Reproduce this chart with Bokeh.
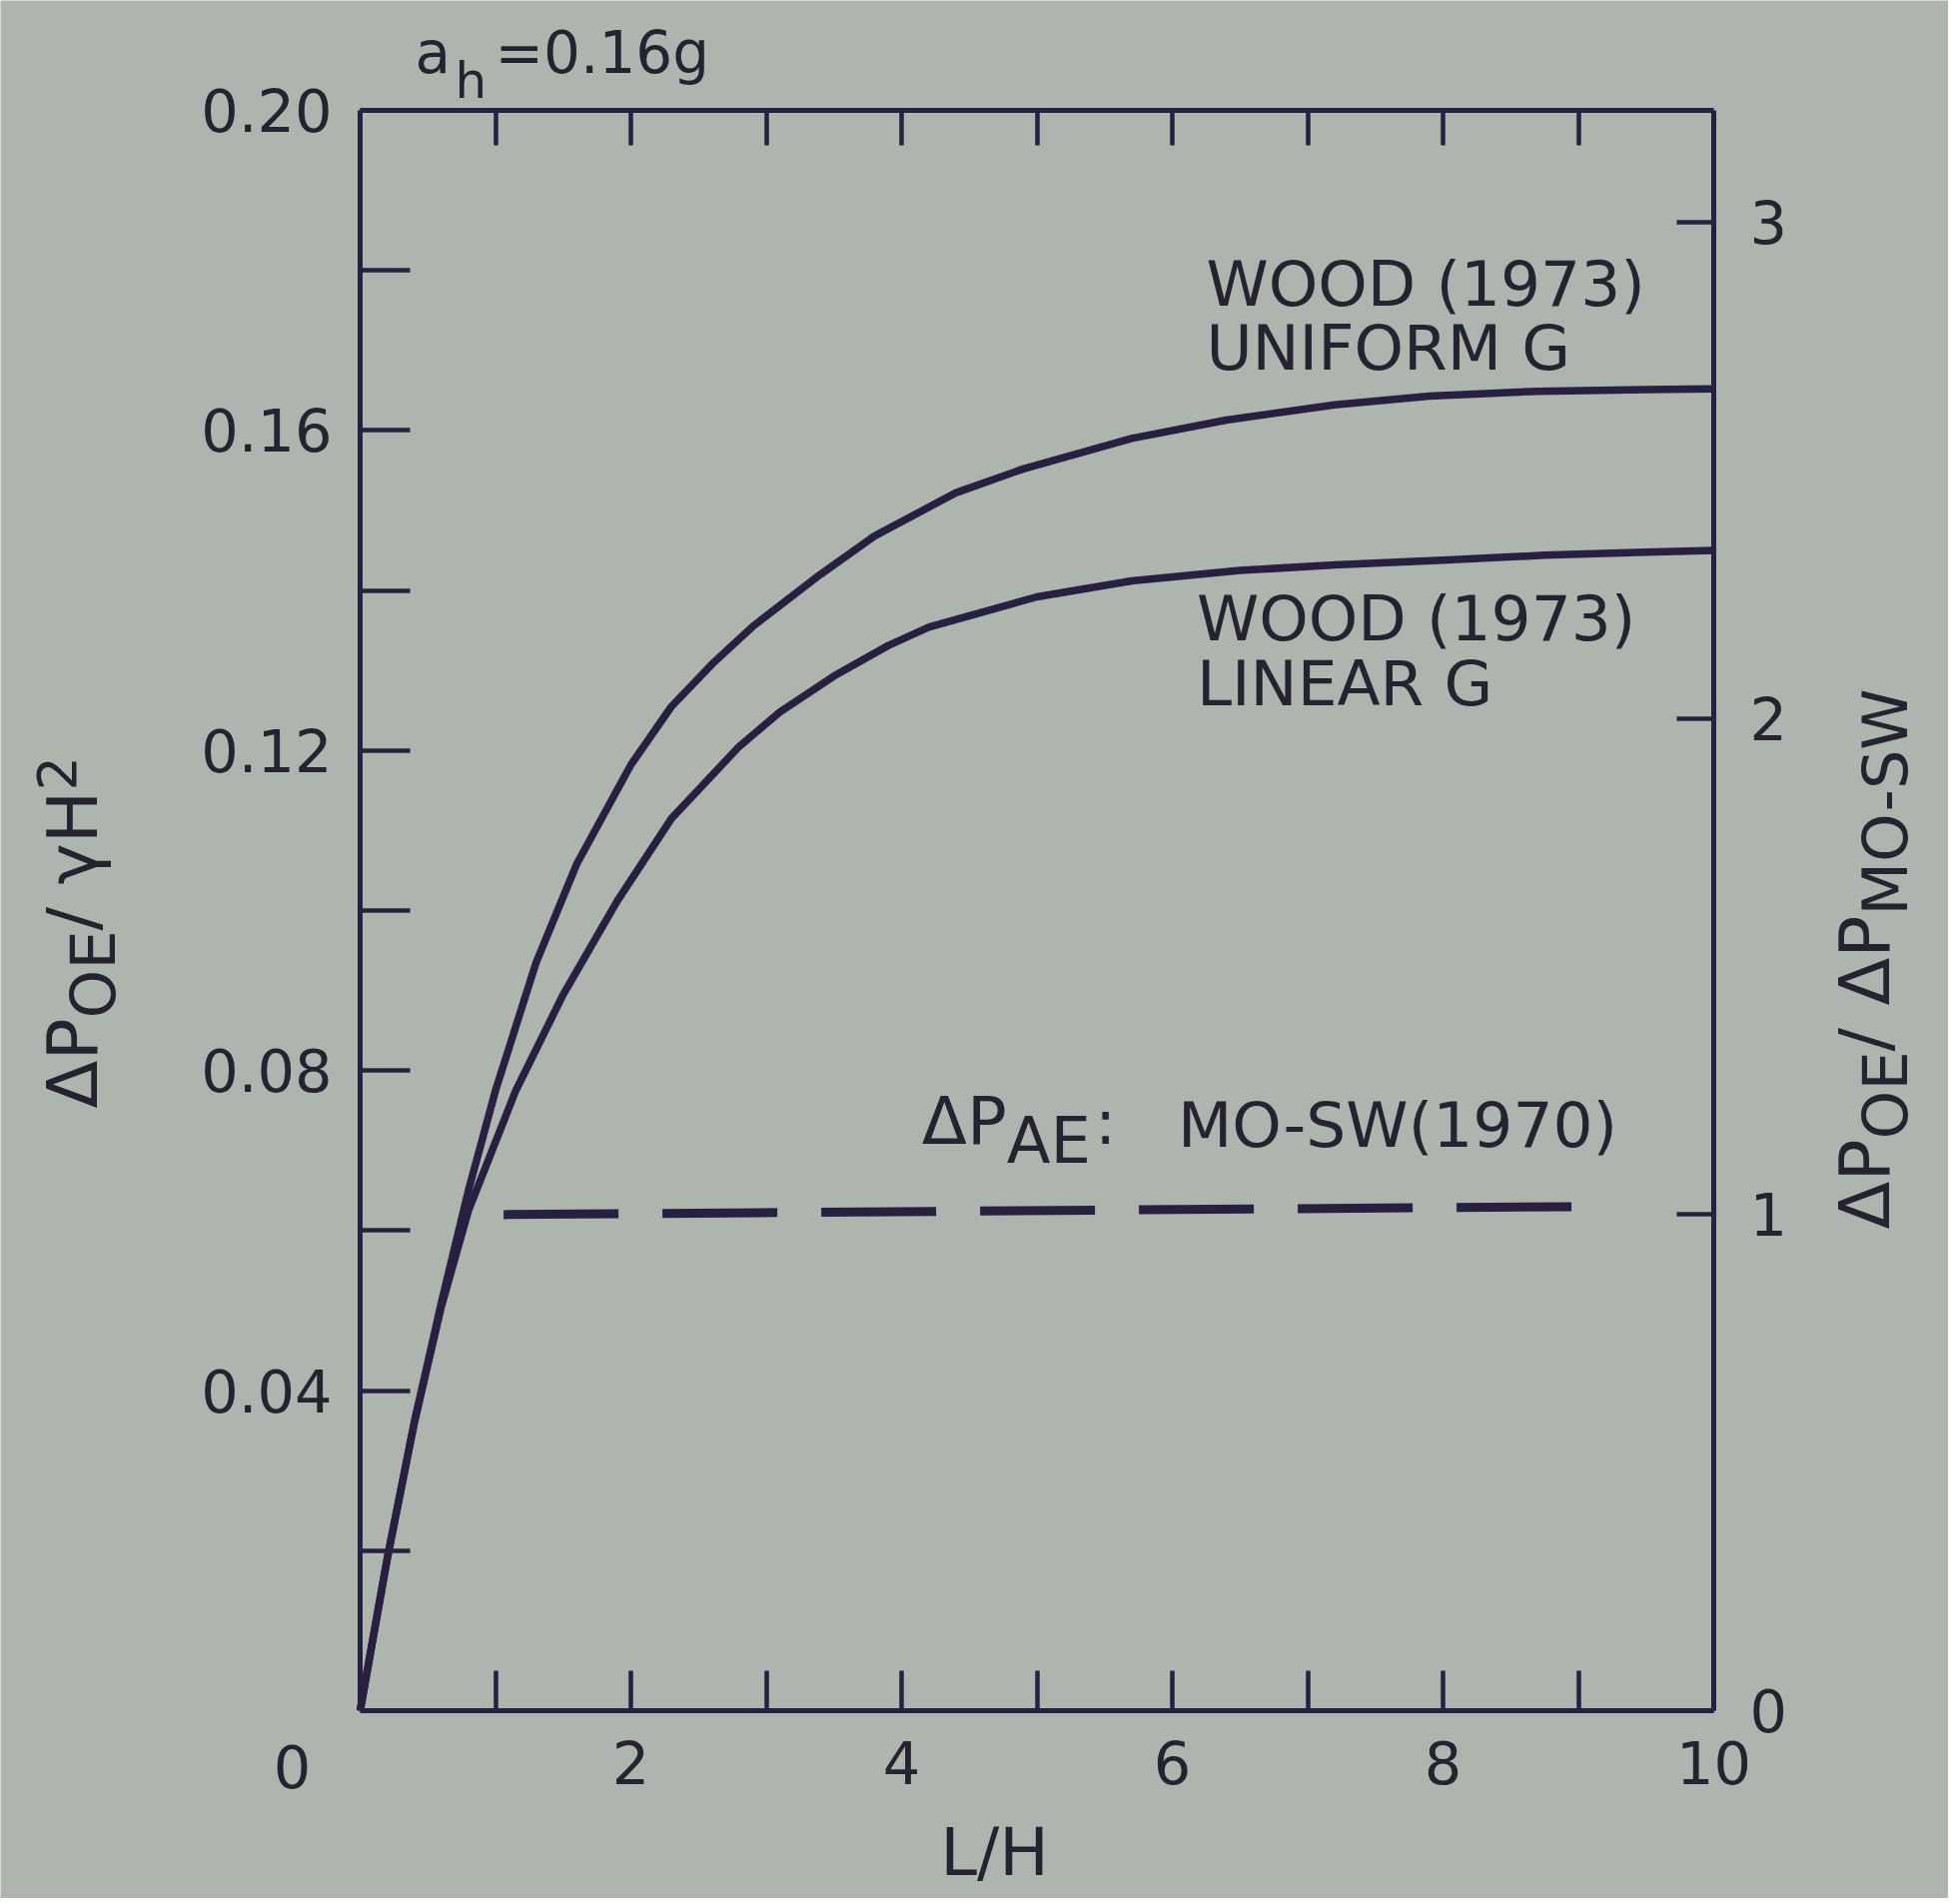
import math
from bokeh.plotting import figure
from bokeh.models import (Range1d, LinearAxis, FixedTicker, PrintfTickFormatter,
                          CustomJSTickFormatter, Label)
from bokeh.embed import file_html
from bokeh.resources import INLINE

# ---------------- data ----------------
uniform_x = [0, 0.2, 0.4, 0.6, 0.8, 1.0, 1.3, 1.6, 2.0, 2.3, 2.6, 2.9, 3.4, 3.8,
             4.4, 4.9, 5.7, 6.4, 7.2, 7.9, 8.7, 9.5, 10]
uniform_y = [0, 0.019, 0.036, 0.051, 0.065, 0.0775, 0.0935, 0.1058, 0.1182, 0.1255,
             0.1308, 0.1355, 0.142, 0.1468, 0.1522, 0.1552, 0.159, 0.1613, 0.1632,
             0.1643, 0.1649, 0.1651, 0.1652]
linear_x = [0, 0.2, 0.4, 0.6, 0.8, 1.15, 1.5, 1.9, 2.3, 2.8, 3.1, 3.5, 3.9, 4.2,
            5.0, 5.7, 6.5, 7.2, 8.0, 8.75, 9.5, 10]
linear_y = [0, 0.019, 0.036, 0.0505, 0.0625, 0.0775, 0.0895, 0.1012, 0.1115, 0.1205,
            0.1248, 0.1293, 0.1331, 0.1354, 0.1392, 0.1412, 0.1425, 0.1432, 0.1438,
            0.1444, 0.1448, 0.145]
mosw_x = [1.06, 8.96]
mosw_y = [0.062, 0.063]
mosw_unit = 0.062            # value of 1 on the right-hand axis

left_major = [0.04, 0.08, 0.12, 0.16, 0.20]
left_minor = [0.02, 0.06, 0.10, 0.14, 0.18]
bottom_major = [2, 4, 6, 8, 10]
bottom_minor = [1, 3, 5, 7, 9]
top_ticks = [1, 2, 3, 4, 5, 6, 7, 8, 9]
right_ticks = [0, 1, 2, 3]
XMAX, YMAX = 10.0, 0.20

# ---------------- style / layout ----------------
BG = "#adb5ae"
INK = "#282040"
TXT = "#25232f"
FONT = "DejaVu Sans"

CW, CH = 1950, 1900                     # canvas
FL, FR, FT, FB = 360, 1715, 110, 1712   # where the data box lies on the canvas
KX = (FR - FL) / XMAX
KY = (FB - FT) / YMAX
xa, xb = -FL / KX, (CW - FL) / KX
yb = YMAX + FT / KY
ya = YMAX - (CH - FT) / KY


def dx(px):
    return (px - FL) / KX


def dy(py):
    return (FB - py) / KY


def wx(px):
    return px / KX


p = figure(width=CW, height=CH, x_range=Range1d(xa, xb), y_range=Range1d(ya, yb),
           min_border=0, x_axis_location=None, y_axis_location=None,
           output_backend="svg", toolbar_location=None)
p.background_fill_color = BG
p.border_fill_color = BG
p.outline_line_color = None
p.xgrid.visible = False
p.ygrid.visible = False
p.extra_y_ranges = {"r": Range1d(ya / mosw_unit, yb / mosw_unit)}


def style(ax, tick_len, size="59px"):
    ax.axis_line_color = INK
    ax.axis_line_width = 5
    ax.major_tick_line_color = INK
    ax.major_tick_line_width = 4.5
    ax.major_tick_in = tick_len
    ax.major_tick_out = 0
    ax.minor_tick_line_color = INK
    ax.minor_tick_line_width = 4.5
    ax.minor_tick_in = tick_len
    ax.minor_tick_out = 0
    ax.major_label_text_font = FONT
    ax.major_label_text_font_size = size
    ax.major_label_text_color = TXT
    ax.major_label_text_font_style = "normal"


yl = LinearAxis(fixed_location=0, bounds=(0, YMAX),
                ticker=FixedTicker(ticks=left_major, minor_ticks=left_minor),
                formatter=PrintfTickFormatter(format="%.2f"))
style(yl, 50)
yl.major_label_standoff = 28
yl.major_label_orientation = "horizontal"
p.add_layout(yl, "left")

xbx = LinearAxis(fixed_location=0, bounds=(0, XMAX),
                 ticker=FixedTicker(ticks=bottom_major, minor_ticks=bottom_minor))
style(xbx, 40)
xbx.major_label_standoff = 30
p.add_layout(xbx, "below")

xt = LinearAxis(fixed_location=YMAX, bounds=(0, XMAX),
                ticker=FixedTicker(ticks=top_ticks, minor_ticks=[]),
                formatter=CustomJSTickFormatter(code="return ''"))
style(xt, 35)
p.add_layout(xt, "above")

yr = LinearAxis(y_range_name="r", fixed_location=XMAX, bounds=(0, YMAX / mosw_unit),
                ticker=FixedTicker(ticks=right_ticks, minor_ticks=[]))
style(yr, 37)
yr.major_label_standoff = 36
yr.major_label_orientation = "horizontal"
p.add_layout(yr, "right")

# ---------------- curves ----------------
p.line(uniform_x, uniform_y, line_color=INK, line_width=7.5, line_join="round")
p.line(linear_x, linear_y, line_color=INK, line_width=7.5, line_join="round")
p.line(mosw_x, mosw_y, line_color=INK, line_width=9, line_dash="115 44")

# ---------------- texts ----------------
UP = math.pi / 2


def lab(x, y, text, size, angle=0.0, align="left", baseline="alphabetic"):
    # the rendered alphabetic baseline sits ~0.4 em low: compensate
    if baseline == "alphabetic":
        if angle == 0.0:
            y += 0.4 * size / KY
        else:
            x -= 0.4 * size / KX
    p.add_layout(Label(x=x, y=y, text=text, text_font=FONT, text_font_size=f"{size}px",
                       text_color=TXT, angle=angle, text_align=align,
                       text_baseline=baseline))


# curve annotations
lab(6.25, 0.1751, "WOOD (1973)", 63)
lab(6.25, 0.1671, "UNIFORM G", 63)
lab(6.18, 0.1333, "WOOD (1973)", 63)
lab(6.18, 0.1252, "LINEAR G", 63)

# dashed line annotation
x0 = 4.15
lab(x0, 0.0704, "ΔP", 66)
x1 = x0 + wx((0.684 + 0.603) * 66)
lab(x1, 0.0680, "AE", 64)
x2 = x1 + wx((0.684 + 0.632) * 64) + wx(4)
lab(x2, 0.0704, ":", 63)
lab(6.04, 0.0700, "MO-SW(1970)", 63)

# a_h = 0.16g
ax0, base = 415, 76
lab(dx(ax0), dy(base), "a", 58)
lab(dx(ax0 + 40), dy(base + 24), "h", 50)
lab(dx(ax0 + 80), dy(base), "=0.16g", 58)

# "0" at the origin corner
lab(dx(292), dy(1768), "0", 59, align="center", baseline="middle")

# x-axis title
lab(dx(995), dy(1880), "L/H", 66, align="center")

# left axis title (rotated, reads bottom to top)
bx, y = 100, 1109
lab(dx(bx), dy(y), "ΔP", 70, angle=UP)
y -= (0.684 + 0.603) * 70
lab(dx(bx + 18), dy(y), "OE", 62, angle=UP)
y -= (0.787 + 0.632) * 62
lab(dx(bx), dy(y), "/ ", 70, angle=UP)
y -= (0.337 + 0.318) * 70
lab(dx(bx), dy(y), "γH", 70, angle=UP)
y -= (0.592 + 0.752) * 70
lab(dx(bx - 22), dy(y), "2", 54, angle=UP)

# right axis title
bx, y = 1894, 1230
lab(dx(bx), dy(y), "ΔP", 70, angle=UP)
y -= (0.684 + 0.603) * 70
lab(dx(bx + 18), dy(y), "OE", 62, angle=UP)
y -= (0.787 + 0.632) * 62
lab(dx(bx), dy(y), "/ ", 70, angle=UP)
y -= (0.337 + 0.318) * 70
lab(dx(bx), dy(y), "ΔP", 70, angle=UP)
y -= (0.684 + 0.603) * 70
lab(dx(bx + 18), dy(y), "MO-SW", 62, angle=UP)

html = file_html(p, INLINE)
html = html.replace("<body>", '<body style="background-color:%s;">' % BG, 1)
open("out.html", "w").write(html)
